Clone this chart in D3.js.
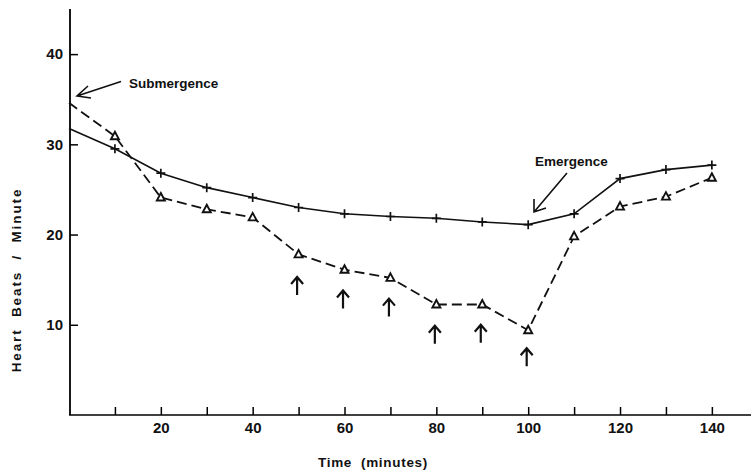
<!DOCTYPE html>
<html>
<head>
<meta charset="utf-8">
<script src="https://cdn.jsdelivr.net/npm/d3@7"></script>
<style>
  body { margin: 0; background: #fff; }
  svg { display: block; }
  text { font-family: "Liberation Sans", Arial, sans-serif; font-weight: bold; fill: #111; }
</style>
</head>
<body>
<div id="chart"></div>
<script>
"use strict";

// time in minutes
const times = [0, 10, 20, 30, 40, 50, 60, 70, 80, 90, 100, 110, 120, 130, 140];
// solid line, "+" markers
const solidBeats = [31.75, 29.5, 26.8, 25.2, 24.1, 23.0, 22.3, 22.0, 21.8, 21.4, 21.1, 22.3, 26.2, 27.2, 27.7];
// dashed line, triangle markers
const dashedBeats = [34.6, 30.9, 24.1, 22.8, 21.9, 17.8, 16.1, 15.2, 12.25, 12.25, 9.4, 19.8, 23.1, 24.2, 26.3];

// small upward arrows below the dashed line
const arrowTimes = [50, 60, 70, 80, 90, 100];
const arrowTips = [15.3, 13.8, 12.9, 9.9, 10.0, 7.4];

const xTicks = [10, 20, 30, 40, 50, 60, 70, 80, 90, 100, 110, 120, 130, 140];
const yTicks = [10, 20, 30, 40];

const width = 751;
const height = 470;

const svg = d3.select('#chart')
  .append('svg')
  .attr('width', width)
  .attr('height', height);

const x = d3.scaleLinear().domain([0, 148]).range([69, 748.6]);
const y = d3.scaleLinear().domain([0, 45]).range([415, 9]);

// axes
const xAxis = d3.axisBottom(x)
  .tickValues(xTicks)
  .tickSizeInner(-8)
  .tickSizeOuter(0)
  .tickPadding(7)
  .tickFormat(d => d % 20 === 0 ? d : '');

svg.append('g')
  .attr('transform', `translate(0,${y(0)})`)
  .call(xAxis)
  .call(g => g.select('.domain').attr('stroke-width', 1.6).attr('d', `M${x(0)},0H${width}`))
  .call(g => g.selectAll('.tick line').attr('stroke-width', 1.5))
  .call(g => g.selectAll('.tick text').attr('font-size', 15).attr('fill', '#111'));

const yAxis = d3.axisLeft(y)
  .tickValues(yTicks)
  .tickSizeInner(-8)
  .tickSizeOuter(0)
  .tickPadding(7);

svg.append('g')
  .attr('transform', `translate(${x(0) + 1},0)`)
  .call(yAxis)
  .call(g => g.select('.domain').attr('stroke-width', 1.8).attr('d', `M0,${y(0)}V${y(45)}`))
  .call(g => g.selectAll('.tick line').attr('stroke-width', 1.5))
  .call(g => g.selectAll('.tick text').attr('font-size', 15).attr('fill', '#111'));

// axis titles
svg.append('text')
  .attr('x', 373)
  .attr('y', 467)
  .attr('text-anchor', 'middle')
  .attr('font-size', 13.5)
  .attr('letter-spacing', 0.7)
  .attr('xml:space', 'preserve')
  .text('Time  (minutes)');

svg.append('text')
  .attr('transform', 'translate(21,280) rotate(-90)')
  .attr('text-anchor', 'middle')
  .attr('font-size', 13.5)
  .attr('letter-spacing', 1.9)
  .attr('xml:space', 'preserve')
  .text('Heart  Beats  /  Minute');

// lines
const line = d3.line()
  .x(d => x(d[0]))
  .y(d => y(d[1]));

const solidData = times.map((t, i) => [t, solidBeats[i]]);
const dashedData = times.map((t, i) => [t, dashedBeats[i]]);

svg.append('path')
  .datum(dashedData)
  .attr('d', line)
  .attr('fill', 'none')
  .attr('stroke', '#111')
  .attr('stroke-width', 1.8)
  .attr('stroke-dasharray', '10,5');

svg.append('path')
  .datum(solidData)
  .attr('d', line)
  .attr('fill', 'none')
  .attr('stroke', '#111')
  .attr('stroke-width', 1.6);

// markers (no marker at time 0)
svg.append('g')
  .selectAll('path')
  .data(solidData.filter(d => d[0] > 0))
  .enter().append('path')
    .attr('d', d => `M${x(d[0]) - 4.5},${y(d[1])}h9M${x(d[0])},${y(d[1]) - 4.5}v9`)
    .attr('stroke', '#111')
    .attr('stroke-width', 1.7);

svg.append('g')
  .selectAll('path')
  .data(dashedData.filter(d => d[0] > 0))
  .enter().append('path')
    .attr('d', d => {
      const cx = x(d[0]), cy = y(d[1]);
      return `M${cx},${cy - 4.5}L${cx + 4},${cy + 3}L${cx - 4},${cy + 3}Z`;
    })
    .attr('fill', '#fff')
    .attr('stroke', '#111')
    .attr('stroke-width', 1.9);

// up arrows
svg.append('g')
  .selectAll('path')
  .data(arrowTimes.map((t, i) => [t, arrowTips[i]]))
  .enter().append('path')
    .attr('d', d => {
      const ax = x(d[0]) - 1.5, ay = y(d[1]);
      return `M${ax},${ay}v18M${ax - 6},${ay + 7}L${ax},${ay}L${ax + 6},${ay + 7}`;
    })
    .attr('fill', 'none')
    .attr('stroke', '#111')
    .attr('stroke-width', 2.2);

// annotations
const notes = svg.append('g');

notes.append('text')
  .attr('x', 129)
  .attr('y', 88)
  .attr('font-size', 13.5)
  .text('Submergence');

notes.append('path')
  .attr('d', 'M121,81.5L77,96M88,86L77,96L91,98')
  .attr('fill', 'none')
  .attr('stroke', '#111')
  .attr('stroke-width', 1.6);

notes.append('text')
  .attr('x', 535)
  .attr('y', 165.5)
  .attr('font-size', 13.5)
  .text('Emergence');

notes.append('path')
  .attr('d', 'M567,173L534,212M534,199L534,212L546,208')
  .attr('fill', 'none')
  .attr('stroke', '#111')
  .attr('stroke-width', 1.6);
</script>
</body>
</html>
